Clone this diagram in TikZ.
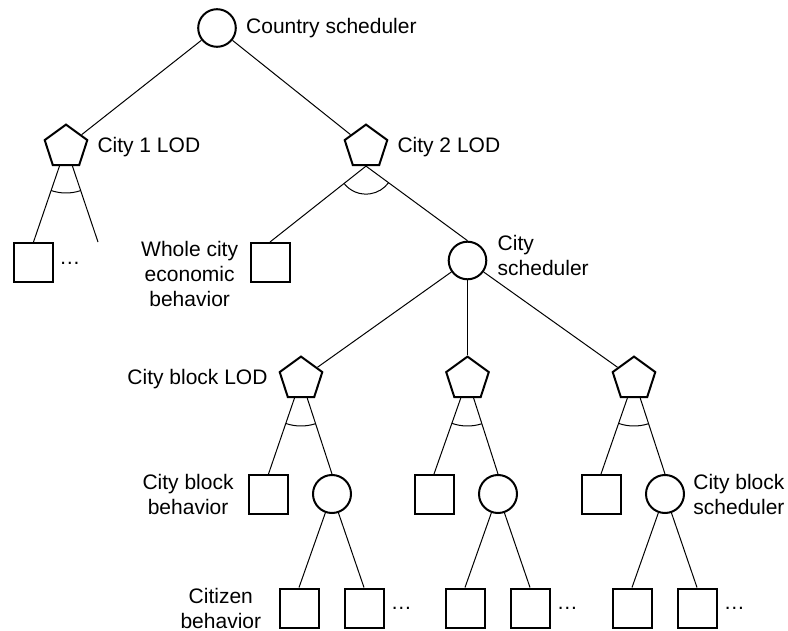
\documentclass[tikz,border=0pt]{standalone}
\usepackage{fontspec}
\setmainfont{Liberation Sans}
\usepackage{tikz}
\usetikzlibrary{positioning, shapes.geometric, calc}
\newcommand{\lodSpan}[4]{%
  \draw[lodArc] let \p1=($(#2)-(#1)$), \p2=($(#3)-(#1)$),
    \n1={atan2(\y1,\x1)}, \n2={atan2(\y2,\x2)} in
    ($(#1)+(\n1:#4)$) arc[start angle=\n1, end angle=\n2, radius=#4];}
\tikzset{
  treeNode/.style={draw, line width=1pt, inner sep=0pt, fill=white},
  schedNode/.style={treeNode, circle, minimum size=18.8pt},
  lodNode/.style={treeNode, regular polygon, regular polygon sides=5, minimum size=22.4pt},
  behNode/.style={treeNode, rectangle, minimum size=19.5pt},
  tagText/.style={inner sep=0pt, font=\fontsize{10.5}{12.5}\selectfont},
  moreText/.style={inner sep=0pt, anchor=base west, font=\fontsize{10.5}{12.5}\selectfont},
  treeLink/.style={line width=0.5pt},
  lodArc/.style={line width=0.5pt}
}

\begin{document}
\begin{tikzpicture}[x=0.5pt, y=-0.5pt]
  \useasboundingbox (0,0) rectangle (788,631);

  \node[schedNode] (country) at (217,28) {};
  \node[lodNode] (city1) at (66,147) {};
  \node[lodNode] (city2) at (366,147) {};

  \node[behNode] (city1Beh) at (33.5,262.5) {};
  \coordinate (city1Free) at (98,242);
  \node[behNode] (wholeCity) at (270,262.5) {};
  \node[schedNode] (citySched) at (467.5,260.5) {};

  \node[lodNode] (block1) at (301,379) {};
  \node[lodNode] (block2) at (467.5,379) {};
  \node[lodNode] (block3) at (634,379) {};

  \node[behNode] (blockBeh1) at (268.5,494.5) {};
  \node[schedNode, minimum size=19pt] (blockSched1) at (332,494) {};
  \node[behNode] (blockBeh2) at (434,494.5) {};
  \node[schedNode, minimum size=19pt] (blockSched2) at (498,494) {};
  \node[behNode] (blockBeh3) at (601,494.5) {};
  \node[schedNode, minimum size=19pt] (blockSched3) at (665,494) {};

  \node[behNode] (citizen1a) at (299,608) {};
  \node[behNode] (citizen1b) at (364,608) {};
  \node[behNode] (citizen2a) at (465,608) {};
  \node[behNode] (citizen2b) at (530,608) {};
  \node[behNode] (citizen3a) at (632,608) {};
  \node[behNode] (citizen3b) at (697,608) {};

  % labels
  \node[tagText, right=4.5pt of country] (countryTag) {Country scheduler};
  \node[tagText, right=5.5pt of city1] (city1Tag) {City 1 LOD};
  \node[tagText, right=5.5pt of city2] (city2Tag) {City 2 LOD};
  \node[tagText, left=5.5pt of wholeCity, yshift=-5.5pt, align=center] (wholeCityTag) {Whole city\\economic\\behavior};
  \node[tagText, right=5pt of citySched, yshift=2.5pt, align=left] (citySchedTag) {City\\scheduler};
  \node[tagText, left=6.5pt of block1] (block1Tag) {City block LOD};
  \node[tagText, left=7pt of blockBeh1, align=center] (blockBehTag) {City block\\behavior};
  \node[tagText, right=4pt of blockSched3, align=left] (blockSchedTag) {City block\\scheduler};
  \node[tagText, left=8.5pt of citizen1a, align=center] (citizenTag) {Citizen\\behavior};

  \node[moreText] (city1More) at ([xshift=2.5pt, yshift=-0.8pt]city1Beh.east) {\dots};
  \node[moreText] (citizen1More) at ([xshift=3pt, yshift=-0.8pt]citizen1b.east) {\dots};
  \node[moreText] (citizen2More) at ([xshift=3pt, yshift=-0.8pt]citizen2b.east) {\dots};
  \node[moreText] (citizen3More) at ([xshift=3pt, yshift=-0.8pt]citizen3b.east) {\dots};

  \draw[treeLink] (country) -- (city1);
  \draw[treeLink] (country) -- (city2);

  \draw[treeLink] (city1) -- (city1Beh.north);
  \draw[treeLink] (city1) -- (city1Free);
  \draw[treeLink] (city2.south) -- (wholeCity.north);
  \draw[treeLink] (city2.south) -- (citySched.north);

  \draw[treeLink] (citySched) -- (block1);
  \draw[treeLink] (citySched) -- (block2);
  \draw[treeLink] (citySched) -- (block3);

  \draw[treeLink] (block1) -- (blockBeh1.north);
  \draw[treeLink] (block1) -- (blockSched1.north);
  \draw[treeLink] (block2) -- (blockBeh2.north);
  \draw[treeLink] (block2) -- (blockSched2.north);
  \draw[treeLink] (block3) -- (blockBeh3.north);
  \draw[treeLink] (block3) -- (blockSched3.north);

  \draw[treeLink] (blockSched1) -- (citizen1a.north);
  \draw[treeLink] (blockSched1) -- (citizen1b.north);
  \draw[treeLink] (blockSched2) -- (citizen2a.north);
  \draw[treeLink] (blockSched2) -- (citizen2b.north);
  \draw[treeLink] (blockSched3) -- (citizen3a.north);
  \draw[treeLink] (blockSched3) -- (citizen3b.north);

  \lodSpan{city1}{city1Beh.north}{city1Free}{23pt}
  \lodSpan{city2.south}{wholeCity.north}{citySched.north}{14pt}
  \lodSpan{block1}{blockBeh1.north}{blockSched1.north}{23.5pt}
  \lodSpan{block2}{blockBeh2.north}{blockSched2.north}{23.5pt}
  \lodSpan{block3}{blockBeh3.north}{blockSched3.north}{23.5pt}
\end{tikzpicture}
\end{document}
